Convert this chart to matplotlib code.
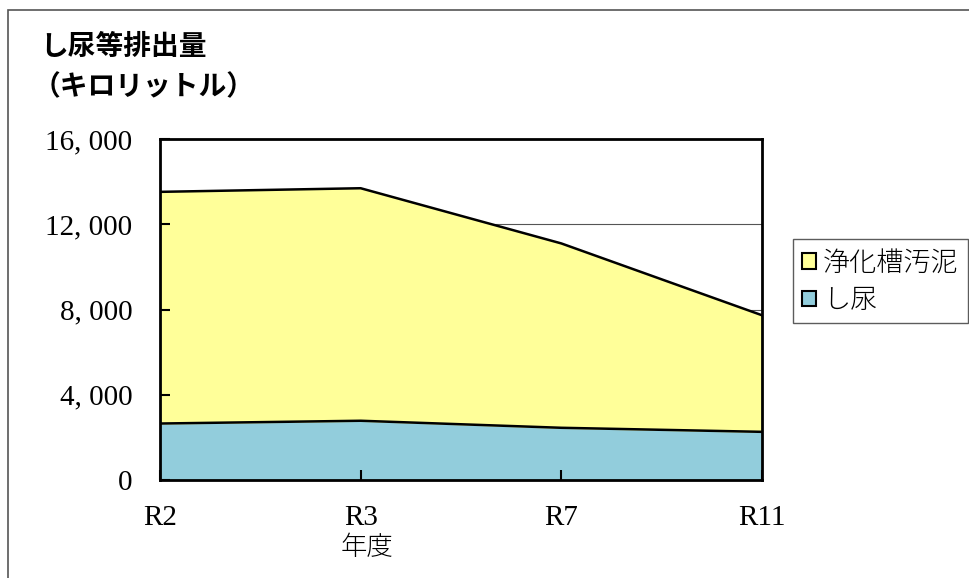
import matplotlib.pyplot as plt
from matplotlib.patches import Rectangle, Patch

plt.rcParams['font.family'] = ['Noto Sans CJK JP', 'DejaVu Sans']

years = ['R2', 'R3', 'R7', 'R11']
shinyo = [2650, 2780, 2450, 2260]          # し尿
jokaso = [10870, 10910, 8650, 5470]         # 浄化槽汚泥
yticks = [0, 4000, 8000, 12000, 16000]
ytick_labels = ['0', '4, 000', '8, 000', '12, 000', '16, 000']

blue = '#92CDDC'
yellow = '#FFFF99'

fig = plt.figure(figsize=(9.7, 5.78), dpi=100)
fig.patches.append(Rectangle((8 / 970, -0.1), 1.1, 1 - 10.5 / 578 + 0.1,
                             transform=fig.transFigure, fill=False,
                             edgecolor='#555555', linewidth=1.2))

ax = fig.add_axes([160 / 970, 98 / 578, 602 / 970, 341 / 578])
x = list(range(len(years)))
total = [a + b for a, b in zip(shinyo, jokaso)]

for yv in yticks[1:-1]:
    ax.axhline(yv, color='#555555', linewidth=0.8, zorder=0)

ax.fill_between(x, 0, shinyo, color=blue, zorder=1)
ax.fill_between(x, shinyo, total, color=yellow, zorder=1)
ax.plot(x, shinyo, color='black', linewidth=1.8, zorder=2)
ax.plot(x, total, color='black', linewidth=1.8, zorder=2)

ax.set_xlim(0, 3)
ax.set_ylim(0, 16000)
ax.set_xticks(x)
ax.set_xticklabels(years, family=['Liberation Serif'], fontsize=21)
ax.set_yticks(yticks)
ax.set_yticklabels(ytick_labels, family=['Liberation Serif'], fontsize=21)
ax.tick_params(axis='both', direction='in', length=7, width=1.5)
ax.tick_params(axis='x', pad=18)
ax.tick_params(axis='y', pad=20)
for s in ax.spines.values():
    s.set_linewidth(2)

# axis title placed in pixel units from the figure's lower-left corner
fig.text(367 / 970, (578 - 547) / 578, '年度', fontsize=19,
         fontweight='light', ha='center', va='center')

fig.text(40 / 970, 1 - 47 / 578, 'し尿等排出量', fontsize=20, fontweight='bold',
         va='center', ha='left')
fig.text(33 / 970, 1 - 87 / 578, '（キロリットル）', fontsize=20, fontweight='bold',
         va='center', ha='left')

handles = [Patch(facecolor=yellow, edgecolor='black', linewidth=1.5),
           Patch(facecolor=blue, edgecolor='black', linewidth=1.5)]
leg = fig.legend(handles, ['浄化槽汚泥', 'し尿'], loc='upper left',
                 bbox_to_anchor=(793 / 970, 1 - 239 / 578),
                 prop={'size': 19.5, 'weight': 'light'}, frameon=True,
                 fancybox=False, edgecolor='#333333', handlelength=0.5,
                 handleheight=0.5, handletextpad=0.25, borderpad=0.35,
                 labelspacing=0.35, borderaxespad=0)
leg.get_frame().set_linewidth(1)

fig.savefig('out.png', dpi=100)
